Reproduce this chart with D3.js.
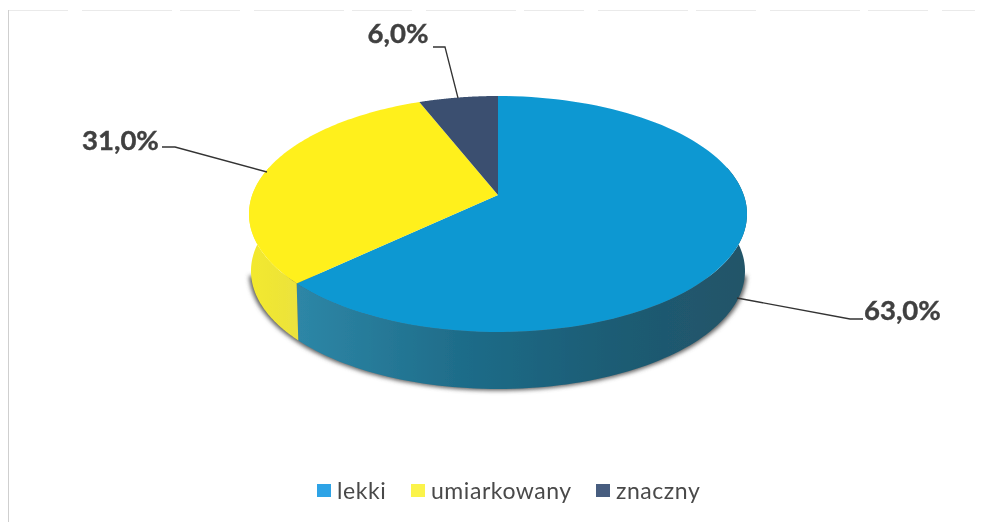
<!DOCTYPE html>
<html><head><meta charset="utf-8">
<script src="https://cdn.jsdelivr.net/npm/d3@7"></script>
<style>html,body{margin:0;background:#fff}svg{display:block}text{font-family:Lato,"Open Sans",sans-serif}</style>
</head><body><div id="c"></div>
<script>
const categories = ["lekki","umiarkowany","znaczny"];
const values = [63,31,6];
const labels = ["63,0%","31,0%","6,0%"];
const colors = ["#0c98d2","#fff01e","#3a5070"];
const W=985,H=522;
const cx=498, apexY=195, topY=96, botY=332, halfW=249, depth=57;
const k=(botY-apexY-(apexY-topY))/((botY-apexY)+(apexY-topY));
const A=(apexY-topY)*(1+k), B=halfW*Math.sqrt(1-k*k);
const project=(a,dy=0,sx=1)=>{const u=Math.sin(a),v=Math.cos(a),d=1+k*v;return [cx+sx*B*u/d, apexY-A*v/d+dy];};
const svg=d3.select("#c").append("svg").attr("width",W).attr("height",H);
const defs=svg.append("defs");
defs.append("filter").attr("id","blur").attr("x","-10%").attr("y","-20%").attr("width","120%").attr("height","140%")
  .append("feGaussianBlur").attr("stdDeviation",2);
defs.append("filter").attr("id","soft").attr("x","-5%").attr("y","-5%").attr("width","110%").attr("height","110%")
  .append("feGaussianBlur").attr("stdDeviation",0.6);
defs.append("filter").attr("id","txt").attr("x","-5%").attr("y","-10%").attr("width","110%").attr("height","120%")
  .append("feGaussianBlur").attr("stdDeviation",0.45);
const sideGrad=defs.append("linearGradient").attr("id","sideBlue").attr("gradientUnits","userSpaceOnUse")
  .attr("x1",300).attr("x2",747).attr("y1",0).attr("y2",0);
[[0,"#2d86a6"],[0.35,"#1f6d8a"],[0.7,"#1d5c74"],[1,"#225468"]].forEach(s=>sideGrad.append("stop").attr("offset",s[0]).attr("stop-color",s[1]));
const sideY=defs.append("linearGradient").attr("id","sideYellow").attr("gradientUnits","userSpaceOnUse")
  .attr("x1",249).attr("x2",300).attr("y1",0).attr("y2",0);
[[0,"#f3e92c"],[1,"#ebe23e"]].forEach(s=>sideY.append("stop").attr("offset",s[0]).attr("stop-color",s[1]));

// faint scanned frame
const frame=svg.append("g").attr("fill","none").attr("stroke-width",1);
frame.append("line").attr("x1",8).attr("x2",975).attr("y1",10.5).attr("y2",10.5).attr("stroke","#eaeaea").attr("stroke-dasharray","60 14 90 8");
frame.append("line").attr("x1",8.5).attr("x2",8.5).attr("y1",10).attr("y2",522).attr("stroke","#cfcfcf");

const pie=d3.pie().sort(null).value(d=>d)(values);
const line=d3.line();
const arcPts=(a0,a1,dy=0,sx=1)=>d3.range(0,101).map(i=>project(a0+(a1-a0)*i/100,dy,sx));
const bottomScale=0.992;

// shadow: only below the rim
svg.append("path").attr("d",line(arcPts(Math.PI*0.56,Math.PI*1.44,depth+1.5))+"Z").attr("fill","#5f5f5f").attr("filter","url(#blur)");

// sides: visible lower half
const vis=(a0,a1)=>{
  const lo=Math.max(a0,Math.PI*0.42), hi=Math.min(a1,Math.PI*1.58);
  if(hi<=lo) return null;
  return line(arcPts(lo,hi).concat(arcPts(lo,hi,depth,bottomScale).reverse()))+"Z";
};
const sideFills=["url(#sideBlue)","url(#sideYellow)","#2b3c54"];
svg.append("g").selectAll("path").data(pie).join("path")
  .attr("d",d=>vis(d.startAngle,d.endAngle)).attr("fill",(d,i)=>sideFills[i]).attr("filter","url(#soft)");

// tops
svg.append("g").selectAll("path").data(pie).join("path")
  .attr("d",d=>line([[cx,apexY]].concat(arcPts(d.startAngle,d.endAngle)))+"Z")
  .attr("fill",(d,i)=>colors[i]).attr("filter","url(#soft)");

// leaders
const leaders=[[[737,298],[850,319],[863,319]],[[267,172],[175,147],[162,147]],[[458,98],[445,47],[433,47]]];
svg.append("g").selectAll("path").data(leaders).join("path")
  .attr("d",d=>line(d)).attr("fill","none").attr("stroke","#333").attr("stroke-width",1.3);
const labelPos=[[864,320,"start"],[120.5,150,"middle"],[398,43,"middle"]];
svg.append("g").selectAll("text").data(labels).join("text")
  .attr("x",(d,i)=>labelPos[i][0]).attr("y",(d,i)=>labelPos[i][1]).attr("text-anchor",(d,i)=>labelPos[i][2])
  .attr("font-size",27.5).attr("font-weight",700).attr("fill","#404040").attr("stroke","#404040").attr("stroke-width",0.4).attr("filter","url(#txt)").text(d=>d);

// legend
const legX=[317,411,596];
const leg=svg.append("g").selectAll("g").data(categories).join("g").attr("transform",(d,i)=>`translate(${legX[i]},484)`);
leg.append("rect").attr("width",14).attr("height",13).attr("fill",(d,i)=>["#2ea3e6","#fbf34a","#475d7f"][i]);
leg.append("text").attr("x",20).attr("y",15).attr("font-size",23).attr("letter-spacing",0.55).attr("fill","#4a4a4a").attr("filter","url(#txt)").text(d=>d);
</script></body></html>
